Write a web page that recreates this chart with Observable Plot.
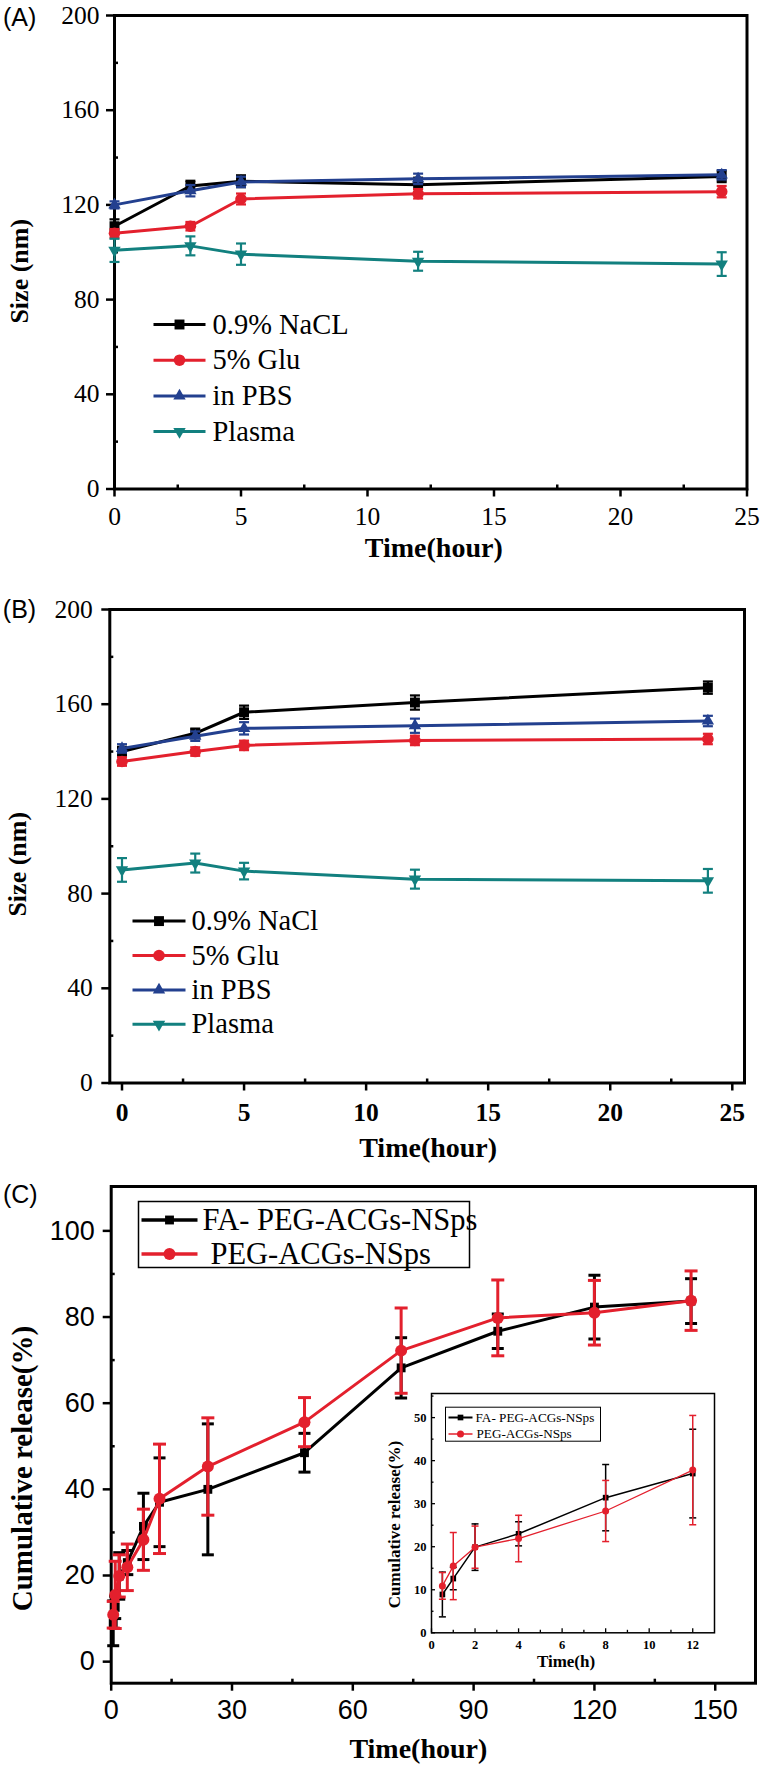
<!DOCTYPE html>
<html><head><meta charset="utf-8">
<script src="https://cdn.jsdelivr.net/npm/d3@7"></script>
<script src="https://cdn.jsdelivr.net/npm/@observablehq/plot@0.6"></script>
<style>
html,body{margin:0;padding:0;background:#fff;}
#page{position:relative;width:760px;height:1770px;overflow:hidden;background:#fff;}
#page svg{position:absolute;}
</style></head><body><div id="page"></div>
<script>
// ---------- data ----------
const hoursAB = [0, 3, 5, 12, 24];
const labelsA = ["0.9% NaCL", "5% Glu", "in PBS", "Plasma"];
const labelsB = ["0.9% NaCl", "5% Glu", "in PBS", "Plasma"];

const sizeA_NaCl = [111, 128, 130, 128.5, 132];
const errA_NaCl = [2.9, 2.2, 2.5, 3, 2.4];
const sizeA_Glu = [108, 111, 122.5, 124.7, 125.6];
const errA_Glu = [1.8, 1.8, 2.3, 2, 2.4];
const sizeA_PBS = [120, 126, 129.7, 131, 132.7];
const errA_PBS = [1.5, 2.4, 2.2, 2.2, 2];
const sizeA_Plasma = [100.8, 102.7, 99.2, 96.2, 95];
const errA_Plasma = [4.9, 4, 4.5, 4, 5];

const sizeB_NaCl = [140, 147.7, 156.6, 160.7, 167];
const errB_NaCl = [2, 2, 2.8, 3, 2.6];
const sizeB_Glu = [135.8, 140, 142.6, 144.7, 145.3];
const errB_Glu = [1.8, 1.8, 2, 2, 2.2];
const sizeB_PBS = [141.3, 146.5, 149.8, 150.9, 152.9];
const errB_PBS = [1.8, 2, 2.6, 3, 2.2];
const sizeB_Plasma = [90, 92.9, 89.5, 86.1, 85.4];
const errB_Plasma = [5, 4, 3.5, 4, 5];

const sizeTicks = [0, 40, 80, 120, 160, 200];
const sizeMinorTicks = [20, 60, 100, 140, 180];
const hourTicksAB = [0, 5, 10, 15, 20, 25];
const hourMinorTicksAB = [2.5, 7.5, 12.5, 17.5, 22.5];

const hoursC = [0.5, 1, 2, 4, 8, 12, 24, 48, 72, 96, 120, 144];
const releaseFA = [8.9, 12.6, 19.9, 23.0, 31.4, 37.0, 40.0, 48.5, 68.2, 76.7, 82.3, 83.7];
const errFA = [5.2, 2.6, 5.4, 2.8, 7.7, 10.3, 15.2, 4.5, 7.0, 4.0, 7.4, 5.2];
const releasePEG = [10.9, 15.5, 19.9, 21.9, 28.3, 37.8, 45.3, 55.6, 72.2, 79.8, 81.0, 83.8];
const errPEG = [3.1, 7.8, 4.9, 5.4, 7.1, 12.7, 11.3, 5.7, 9.9, 8.8, 7.5, 6.9];
const labelsC = ["FA- PEG-ACGs-NSps", "PEG-ACGs-NSps"];
const insetLastHour = 12;

const releaseTicks = [0, 20, 40, 60, 80, 100];
const releaseMinorTicks = [10, 30, 50, 70, 90];
const hourTicksC = [0, 30, 60, 90, 120, 150];
const hourMinorTicksC = [15, 45, 75, 105, 135];
const insetReleaseTicks = [0, 10, 20, 30, 40, 50];
const insetReleaseMinor = [5, 15, 25, 35, 45, 55];
const insetHourTicks = [0, 2, 4, 6, 8, 10, 12];
const insetHourMinor = [1, 3, 5, 7, 9, 11];

// ---------- styles ----------
const W = 760;
const C_BLACK = "#000000", C_RED = "#e3202d", C_BLUE = "#23408f", C_TEAL = "#12807f";
const serif = '"Liberation Serif", "Times New Roman", serif';
const sans = '"Liberation Sans", Arial, sans-serif';
const hbar = (w) => ({draw(ctx) { ctx.moveTo(-w / 2, 0); ctx.lineTo(w / 2, 0); }});
const rows = (xs, vs, es) => xs.map((h, i) => ({h, v: vs[i], e: es[i]}));

function seriesMarks(data, color, o) {
  return [
    Plot.line(data, {x: "h", y: "v", stroke: color, strokeWidth: o.lw}),
    Plot.ruleX(data, {x: "h", y1: d => d.v - d.e, y2: d => d.v + d.e, stroke: color, strokeWidth: o.ew}),
    Plot.dot(data, {x: "h", y: d => d.v + d.e, symbol: hbar(o.cap), stroke: color, fill: "none", strokeWidth: o.ew}),
    Plot.dot(data, {x: "h", y: d => d.v - d.e, symbol: hbar(o.cap), stroke: color, fill: "none", strokeWidth: o.ew}),
    Plot.dot(data, {x: "h", y: "v", symbol: o.symbol, rotate: o.rotate || 0, r: o.r, fill: color, stroke: "none"})
  ];
}

function legendRow(label, color, o, L, dy) {
  return [
    Plot.dot([label], {frameAnchor: "top-left", dx: L.cx, dy, symbol: hbar(L.w), stroke: color, fill: "none", strokeWidth: L.lw}),
    Plot.dot([label], {frameAnchor: "top-left", dx: L.cx, dy, symbol: o.symbol, rotate: o.rotate || 0, r: o.r, fill: color, stroke: "none"}),
    Plot.text([label], {frameAnchor: "top-left", dx: L.tx, dy, text: d => d, textAnchor: "start", lineAnchor: "middle",
      fontSize: L.fs, fontFamily: serif, fill: "black"})
  ];
}

function yTitle(label, o) {
  return Plot.text([label], {frameAnchor: "left", dx: o.dx, dy: o.dy, rotate: -90, text: d => d,
    textAnchor: "middle", lineAnchor: "middle", fontSize: o.fs, fontWeight: "bold", fontFamily: serif, fill: "black"});
}

function place(svg, left, top) {
  svg.style.left = left + "px";
  svg.style.top = top + "px";
  document.getElementById("page").appendChild(svg);
}

// ---------- panels A and B ----------
function sizePanel(p) {
  const styles = [
    {symbol: "square", r: 5.6},
    {symbol: "circle", r: 5.8},
    {symbol: "triangle", r: 4.6},
    {symbol: "triangle", r: 4.6, rotate: 180}
  ];
  const colors = [C_BLACK, C_RED, C_BLUE, C_TEAL];
  const series = [
    rows(hoursAB, p.vals[0], p.errs[0]),
    rows(hoursAB, p.vals[1], p.errs[1]),
    rows(hoursAB, p.vals[2], p.errs[2]),
    rows(hoursAB, p.vals[3], p.errs[3])
  ];
  const marks = [
    Plot.frame({stroke: "black", strokeWidth: 3}),
    Plot.axisY({ticks: sizeTicks, tickSize: 8, tickPadding: p.yPad, strokeWidth: 2.5, fontSize: 25.5, fontFamily: serif, label: null, tickFormat: d => String(d)}),
    Plot.axisY({ticks: sizeMinorTicks, tickSize: -4, strokeWidth: 2.5, fill: "none", label: null}),
    Plot.axisX({ticks: hourTicksAB, tickSize: 8, tickPadding: p.xPad, strokeWidth: 2.5, fontSize: 25.5, fontFamily: serif, fontWeight: p.xBold ? "bold" : "normal", label: null, tickFormat: d => String(d)}),
    Plot.axisX({ticks: hourMinorTicksAB, tickSize: -4, strokeWidth: 2.5, fill: "none", label: null})
  ];
  series.forEach((s, i) => marks.push(...seriesMarks(s, colors[i], {lw: 3, ew: 2.2, cap: 10, ...styles[i]})));
  p.labels.forEach((lab, i) => marks.push(...legendRow(lab, colors[i], styles[i], p.legend, p.legend.y0 + i * p.legend.step)));
  marks.push(
    Plot.text([p.tag], {frameAnchor: "top-left", dx: p.tagDx, dy: p.tagDy, text: d => d, textAnchor: "start", lineAnchor: "bottom", fontSize: 25, fontFamily: sans, fill: "black"}),
    Plot.text(["Time(hour)"], {frameAnchor: "bottom", dx: p.xtDx, dy: p.xtDy, text: d => d, textAnchor: "middle", lineAnchor: "bottom", fontSize: 28, fontWeight: "bold", fontFamily: serif, fill: "black"}),
    yTitle("Size (nm)", {dx: p.ytDx, dy: p.ytDy, fs: 26})
  );
  return Plot.plot({
    width: W, height: p.height,
    marginLeft: p.ml, marginRight: p.mr, marginTop: p.mt, marginBottom: p.mb,
    x: {domain: p.xDomain}, y: {domain: [0, 200]},
    style: {fontFamily: serif, background: "transparent", overflow: "visible", color: "black"},
    marks
  });
}

const svgA = sizePanel({
  height: 575, ml: 114, mr: 13.5, mt: 15, mb: 86.5, xDomain: [0, 25], yPad: 7, xPad: 10, xBold: false,
  vals: [sizeA_NaCl, sizeA_Glu, sizeA_PBS, sizeA_Plasma], errs: [errA_NaCl, errA_Glu, errA_PBS, errA_Plasma],
  labels: labelsA,
  legend: {cx: 65, w: 52, lw: 3, tx: 98, fs: 28.5, y0: 309, step: 35.7},
  tag: "(A)", tagDx: -111.6, tagDy: 10,
  xtDx: 3, xtDy: 67.5, ytDx: -94.5, ytDy: 19
});
place(svgA, 0, 0);

const svgB = sizePanel({
  height: 590, ml: 109.3, mr: 16, mt: 34, mb: 82.5, xDomain: [-0.5, 25.5], yPad: 9, xPad: 12, xBold: true,
  vals: [sizeB_NaCl, sizeB_Glu, sizeB_PBS, sizeB_Plasma], errs: [errB_NaCl, errB_Glu, errB_PBS, errB_Plasma],
  labels: labelsB,
  legend: {cx: 49.2, w: 53, lw: 3, tx: 81.7, fs: 28.5, y0: 311.6, step: 34.4},
  tag: "(B)", tagDx: -107, tagDy: 8.5,
  xtDx: 1, xtDy: 73.5, ytDx: -92.3, ytDy: 18
});
place(svgB, 0, 575);

// ---------- panel C ----------
const fa = rows(hoursC, releaseFA, errFA);
const peg = rows(hoursC, releasePEG, errPEG);
const styleFA = {symbol: "square", r: 5};
const stylePEG = {symbol: "circle", r: 6};
const frameWC = W - 110.7 - 5, frameHC = 605 - 21 - 87.3;

const svgC = Plot.plot({
  width: W, height: 605,
  marginLeft: 110.7, marginRight: 5, marginTop: 21, marginBottom: 87.3,
  x: {domain: [0, 160]}, y: {domain: [-5, 110.3]},
  style: {fontFamily: serif, background: "transparent", overflow: "visible", color: "black"},
  marks: [
    Plot.frame({stroke: "black", strokeWidth: 3}),
    Plot.axisY({ticks: releaseTicks, tickSize: 8, tickPadding: 8.5, strokeWidth: 2.5, fontSize: 27, fontFamily: sans, label: null, tickFormat: d => String(d)}),
    Plot.axisY({ticks: releaseMinorTicks, tickSize: -4, strokeWidth: 2.5, fill: "none", label: null}),
    Plot.axisX({ticks: hourTicksC, tickSize: 8, tickPadding: 9, strokeWidth: 2.5, fontSize: 27, fontFamily: sans, label: null, tickFormat: d => String(d)}),
    Plot.axisX({ticks: hourMinorTicksC, tickSize: -4, strokeWidth: 2.5, fill: "none", label: null}),
    ...seriesMarks(fa, C_BLACK, {lw: 3, ew: 3, cap: 12, ...styleFA}),
    ...seriesMarks(peg, C_RED, {lw: 3, ew: 3, cap: 13, ...stylePEG}),
    Plot.frame({stroke: "black", strokeWidth: 1.5, fill: "white", insetLeft: 27.3, insetTop: 15, insetRight: frameWC - 358.3, insetBottom: frameHC - 81}),
    ...legendRow(labelsC[0], C_BLACK, styleFA, {cx: 58.3, w: 56, lw: 3.5, tx: 91.3, fs: 30.5}, 33.5),
    ...legendRow(labelsC[1], C_RED, stylePEG, {cx: 58.3, w: 56, lw: 3.5, tx: 99.3, fs: 30.5}, 67.5),
    Plot.text(["(C)"], {frameAnchor: "top-left", dx: -108.3, dy: 16, text: d => d, textAnchor: "start", lineAnchor: "bottom", fontSize: 25, fontFamily: sans, fill: "black"}),
    Plot.text(["Time(hour)"], {frameAnchor: "bottom", dx: -15, dy: 74.3, text: d => d, textAnchor: "middle", lineAnchor: "bottom", fontSize: 28, fontWeight: "bold", fontFamily: serif, fill: "black"}),
    yTitle("Cumulative release(%)", {dx: -88.7, dy: 33.7, fs: 29})
  ]
});
place(svgC, 0, 1165);

// ---------- inset ----------
const faIn = fa.filter(d => d.h <= insetLastHour);
const pegIn = peg.filter(d => d.h <= insetLastHour);
const styleFAin = {symbol: "square", r: 3.2};
const stylePEGin = {symbol: "circle", r: 3.5};
const frameWI = 345 - 51 - 11, frameHI = 295 - 13 - 42.7;
const svgI = Plot.plot({
  width: 345, height: 295,
  marginLeft: 51, marginRight: 11, marginTop: 13, marginBottom: 42.7,
  x: {domain: [0, 13]}, y: {domain: [0, 55.6]},
  style: {fontFamily: serif, background: "transparent", overflow: "visible", color: "black"},
  marks: [
    Plot.frame({stroke: "black", strokeWidth: 1.5, fill: "white"}),
    Plot.axisY({ticks: insetReleaseTicks, tickSize: 0, tickPadding: 5, fontSize: 12.5, fontWeight: "bold", fontFamily: serif, label: null, tickFormat: d => String(d)}),
    Plot.axisY({ticks: insetReleaseTicks, tickSize: -4, strokeWidth: 1.3, fill: "none", label: null}),
    Plot.axisY({ticks: insetReleaseMinor, tickSize: -2.5, strokeWidth: 1.3, fill: "none", label: null}),
    Plot.axisX({ticks: insetHourTicks, tickSize: 0, tickPadding: 7.5, fontSize: 12.5, fontWeight: "bold", fontFamily: serif, label: null, tickFormat: d => String(d)}),
    Plot.axisX({ticks: insetHourTicks, tickSize: -4, strokeWidth: 1.3, fill: "none", label: null}),
    Plot.axisX({ticks: insetHourMinor, tickSize: -2.5, strokeWidth: 1.3, fill: "none", label: null}),
    ...seriesMarks(faIn, C_BLACK, {lw: 1.5, ew: 1.5, cap: 7, ...styleFAin}),
    ...seriesMarks(pegIn, C_RED, {lw: 1.3, ew: 1.5, cap: 7, ...stylePEGin}),
    Plot.frame({stroke: "black", strokeWidth: 1, fill: "white", insetLeft: 14, insetTop: 13.7, insetRight: frameWI - 169, insetBottom: frameHI - 47.7}),
    ...legendRow(labelsC[0], C_BLACK, styleFAin, {cx: 29, w: 24, lw: 2, tx: 44, fs: 13.2}, 24),
    ...legendRow(labelsC[1], C_RED, stylePEGin, {cx: 29, w: 24, lw: 1.5, tx: 45, fs: 13.2}, 40.5),
    Plot.text(["Time(h)"], {frameAnchor: "bottom", dx: -7, dy: 34.5, text: d => d, textAnchor: "middle", lineAnchor: "bottom", fontSize: 17, fontWeight: "bold", fontFamily: serif, fill: "black"}),
    yTitle("Cumulative release(%)", {dx: -36.5, dy: 11.4, fs: 17})
  ]
});
place(svgI, 380, 1380);
</script>
</body></html>
